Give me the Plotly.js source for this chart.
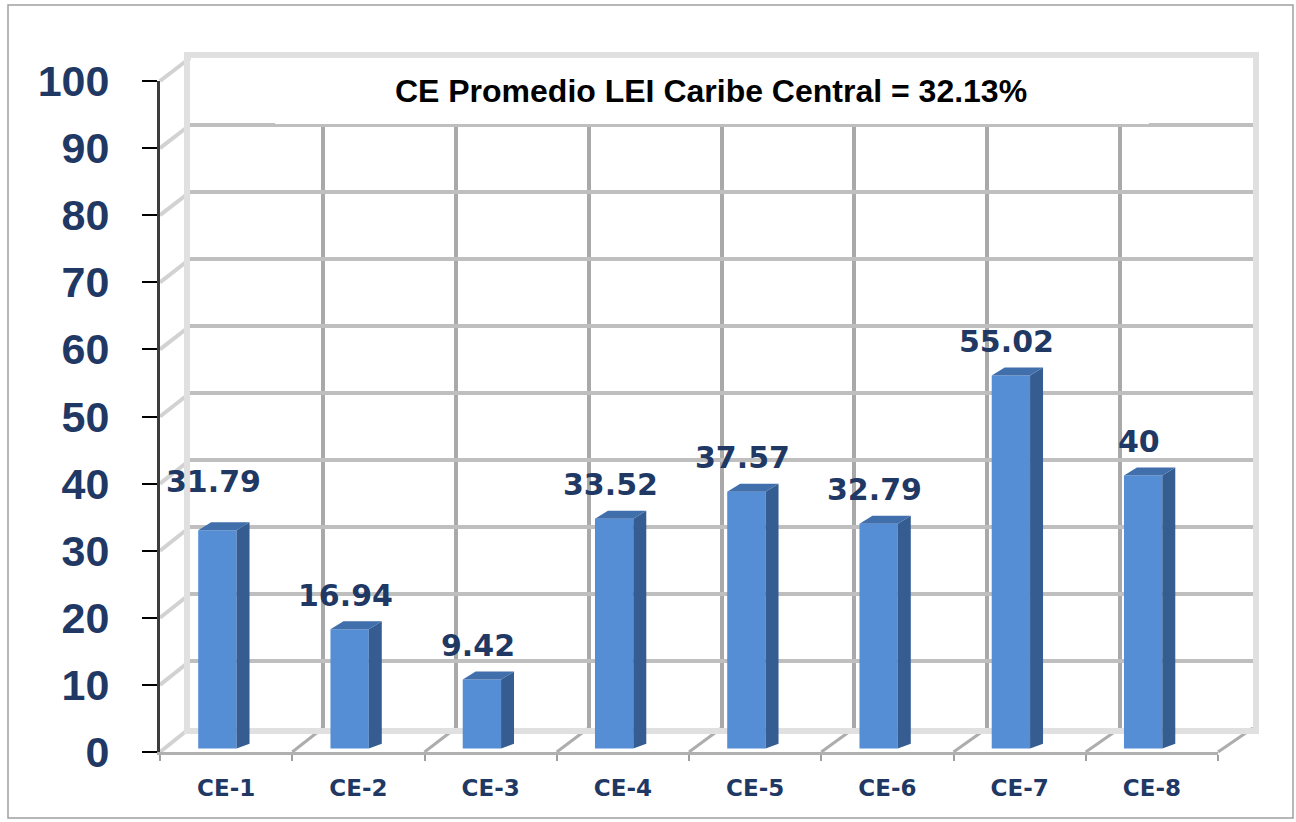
<!DOCTYPE html>
<html><head><meta charset="utf-8">
<script src="https://cdn.plot.ly/plotly-3.0.1.min.js"></script>
<style>html,body{margin:0;padding:0;background:#fff}#chart{width:1296px;height:822px}</style>
</head><body><div id="chart"></div>
<script>
// ---- data ----
const categories = ['CE-1','CE-2','CE-3','CE-4','CE-5','CE-6','CE-7','CE-8'];
const values = [31.79, 16.94, 9.42, 33.52, 37.57, 32.79, 55.02, 40];
const valueLabels = ['31.79','16.94','9.42','33.52','37.57','32.79','55.02','40'];
const yTicks = [0,10,20,30,40,50,60,70,80,90,100];
const chartTitle = 'CE Promedio LEI Caribe Central = 32.13%';

// ---- geometry / style ----
const W = 1296, H = 822;
const FRONT = {l:160, r:1218, b:752, t:81};
const BACK  = {l:190, r:1253, b:728, t:58};
const BAR_ZERO_PX = 742.3, BAR_PX_PER_UNIT = 6.667;
const BAR_BASE = -0.93, BAR_OFFSET = -0.211, BAR_WIDTH = 0.29, SIDE_DX = 0.098, SIDE_DY = 1.2;
const LABEL_DX = -0.096, LABEL_YSHIFT = 34;
const LABEL_EXTRA_SHIFT = {0: 15};   // first label sits higher in the original
const NAVY = '#1F3864';
const n = categories.length;
const fx = px => px / W, fy = py => 1 - py / H;
const catPx = (FRONT.r - FRONT.l) / n, valPx = (FRONT.b - FRONT.t) / 100;
const backCatPx = (BACK.r - BACK.l) / n, backValPx = (BACK.b - BACK.t) / 100;
const cx = px => (px - FRONT.l) / catPx;
const cy = py => (FRONT.b - py) / valPx;

// side wall diagonals (incl. floor-left edge)
const sideX = [], sideY = [];
yTicks.forEach(v => {
  sideX.push(cx(FRONT.l), cx(BACK.l), null);
  sideY.push(cy(FRONT.b - v * valPx), cy(BACK.b - v * backValPx), null);
});
// floor diagonals at category boundaries
const floorX = [], floorY = [];
for (let k = 1; k <= n; k++) {
  floorX.push(cx(FRONT.l + k * catPx), cx(BACK.l + k * backCatPx), null);
  floorY.push(cy(FRONT.b), cy(BACK.b), null);
}
// 3D bar faces
const sideFX = [], sideFY = [], topFX = [], topFY = [];
values.forEach((v, i) => {
  const l = i + BAR_OFFSET, r = l + BAR_WIDTH;
  sideFX.push(r, r, r + SIDE_DX, r + SIDE_DX, null);
  sideFY.push(BAR_BASE, v, v + SIDE_DY, BAR_BASE + SIDE_DY * 0.6, null);
  topFX.push(l, r, r + SIDE_DX, l + SIDE_DX, null);
  topFY.push(v, v, v + SIDE_DY, v + SIDE_DY, null);
});

const data = [
  {type:'scatter', mode:'lines', x:sideX, y:sideY, xaxis:'x', yaxis:'y',
   line:{color:'#D2D2D2', width:4}, hoverinfo:'skip', connectgaps:false},
  {type:'scatter', mode:'lines', x:floorX, y:floorY, xaxis:'x', yaxis:'y',
   line:{color:'#ADADAD', width:3}, hoverinfo:'skip', connectgaps:false},
  // invisible anchors so the back-wall and front-axis subplots exist
  {type:'scatter', mode:'markers', x:categories.map((_, i) => i + 0.5), y:values,
   xaxis:'x2', yaxis:'y2', marker:{opacity:0, size:1}, hoverinfo:'skip'},
  {type:'scatter', mode:'markers', x:categories, y:values,
   xaxis:'x3', yaxis:'y3', marker:{opacity:0, size:1}, hoverinfo:'skip'},
  {type:'bar', x:categories, y:values.map(v => v - BAR_BASE), base:BAR_BASE,
   offset:BAR_OFFSET, width:BAR_WIDTH, xaxis:'x3', yaxis:'y4',
   marker:{color:'#558ED5', line:{width:0}}, hoverinfo:'skip'},
  {type:'scatter', mode:'lines', x:sideFX, y:sideFY, xaxis:'x4', yaxis:'y4',
   fill:'toself', fillcolor:'#355D91', line:{width:0, color:'#355D91'}, hoverinfo:'skip'},
  {type:'scatter', mode:'lines', x:topFX, y:topFY, xaxis:'x4', yaxis:'y4',
   fill:'toself', fillcolor:'#416FAC', line:{width:0, color:'#416FAC'}, hoverinfo:'skip'}
];

const annotations = valueLabels.map((t, i) => ({
  xref:'x4', yref:'y4', x:i + LABEL_DX, y:values[i], text:t, showarrow:false,
  xanchor:'center', yanchor:'middle', yshift:LABEL_YSHIFT + (LABEL_EXTRA_SHIFT[i] || 0),
  font:{family:'DejaVu Sans', size:30, color:NAVY, weight:'bold'}
}));

const layout = {
  width:W, height:H, margin:{l:0, r:0, t:0, b:0, pad:0},
  paper_bgcolor:'#ffffff', plot_bgcolor:'rgba(0,0,0,0)', showlegend:false,
  hovermode:false,
  title:{text:chartTitle, x:fx(711), xref:'paper', xanchor:'center',
         y:fy(91), yref:'container', yanchor:'middle',
         font:{family:'Liberation Sans', size:32, color:'#000000', weight:'bold'}},
  xaxis:{domain:[0,1], range:[cx(0), cx(W)], visible:false, fixedrange:true},
  yaxis:{domain:[0,1], range:[cy(H), cy(0)], visible:false, fixedrange:true},
  xaxis2:{domain:[fx(BACK.l), fx(BACK.r)], range:[0, n], anchor:'y2',
          tickvals:categories.map((_, i) => i).slice(1), showticklabels:false, ticks:'',
          showgrid:true, gridcolor:'#A9A9A9', gridwidth:4,
          showline:true, mirror:true, linecolor:'#E0E0E0', linewidth:6, zeroline:false},
  yaxis2:{domain:[fy(BACK.b), fy(BACK.t)], range:[0, 100], anchor:'x2',
          tickvals:yTicks, showticklabels:false, ticks:'',
          showgrid:true, gridcolor:'#BFBFBF', gridwidth:4,
          showline:true, mirror:true, linecolor:'#E0E0E0', linewidth:6, zeroline:false},
  xaxis3:{domain:[fx(FRONT.l), fx(FRONT.r)], anchor:'y3', type:'category',
          categoryorder:'array', categoryarray:categories, range:[-0.5, n - 0.5],
          tickson:'boundaries', ticks:'outside', ticklen:6, tickwidth:2, tickcolor:'#A0A0A0',
          showline:true, linecolor:'#B0B0B0', linewidth:3, showgrid:false, zeroline:false,
          tickfont:{family:'DejaVu Sans', size:23, color:NAVY, weight:'bold'}, ticklabelstandoff:13},
  yaxis3:{domain:[fy(FRONT.b), fy(FRONT.t)], anchor:'x3', range:[0, 100],
          tickvals:yTicks, ticks:'outside', ticklen:15, tickwidth:2, tickcolor:'#000000',
          showline:true, linecolor:'#3C3C3C', linewidth:3, showgrid:false, zeroline:false,
          tickfont:{family:'Liberation Sans', size:43, color:NAVY, weight:'bold'}, ticklabelstandoff:24},
  xaxis4:{overlaying:'x3', range:[-0.5, n - 0.5], visible:false},
  yaxis4:{overlaying:'y3', range:[(BAR_ZERO_PX - FRONT.b) / BAR_PX_PER_UNIT, (BAR_ZERO_PX - FRONT.t) / BAR_PX_PER_UNIT], visible:false},
  shapes:[
    {type:'rect', xref:'paper', yref:'paper', x0:fx(275), x1:fx(1149), y0:fy(124), y1:fy(58),
     fillcolor:'#ffffff', line:{width:0}, layer:'above'},
    {type:'rect', xref:'paper', yref:'paper', x0:fx(8), x1:fx(1293), y0:fy(818), y1:fy(5),
     fillcolor:'rgba(0,0,0,0)', line:{color:'#A0A0A0', width:1.5}, layer:'above'}
  ],
  annotations:annotations
};

Plotly.newPlot('chart', data, layout, {staticPlot:true, displayModeBar:false});
</script>
</body></html>
